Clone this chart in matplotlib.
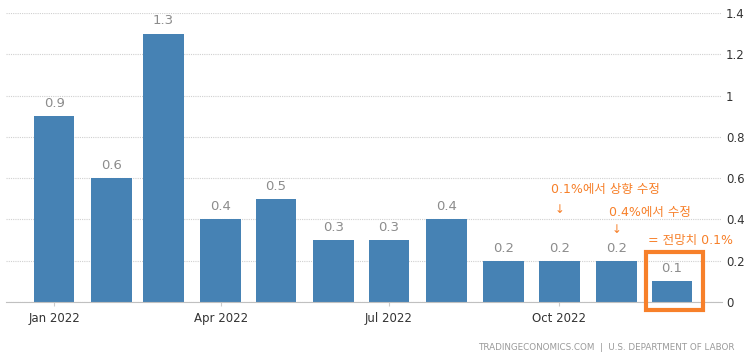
import matplotlib
matplotlib.use('Agg')
import matplotlib.pyplot as plt
import matplotlib.dates as mdates
from matplotlib.patches import Rectangle
import datetime as dt

plt.rcParams['font.family'] = ['DejaVu Sans', 'Noto Sans CJK KR']

# Daten
months = [dt.date(2022, m, 1) for m in range(1, 13)]
values = [0.9, 0.6, 1.3, 0.4, 0.5, 0.3, 0.3, 0.4, 0.2, 0.2, 0.2, 0.1]
tick_dates = [dt.date(2022, 1, 1), dt.date(2022, 4, 1), dt.date(2022, 7, 1), dt.date(2022, 10, 1)]
tick_labels = ['Jan 2022', 'Apr 2022', 'Jul 2022', 'Oct 2022']
yticks = [0, 0.2, 0.4, 0.6, 0.8, 1, 1.2, 1.4]
ytick_labels = ['0', '0.2', '0.4', '0.6', '0.8', '1', '1.2', '1.4']

orange = '#f7802a'
bar_col = '#4682b4'

fig = plt.figure(figsize=(7.48, 3.57), dpi=100)
ax = fig.add_axes([6 / 748, 55 / 357, 716 / 748, 289 / 357])

x = mdates.date2num(months)
ax.bar(x, values, width=22, color=bar_col, zorder=2)

for xi, v in zip(x, values):
    ax.text(xi, v + 0.03, f'{v:.1f}', ha='center', va='bottom', color='#8c8c8c', fontsize=9.5)

ax.set_xlim(mdates.date2num(dt.date(2021, 12, 6)), mdates.date2num(dt.date(2022, 12, 28)))
ax.set_ylim(0, 1.4)

ax.set_xticks(mdates.date2num(tick_dates))
ax.set_xticklabels(tick_labels, fontsize=8.5, color='#333333')
ax.tick_params(axis='x', length=3, color='#cccccc', pad=4)

ax.yaxis.tick_right()
ax.set_yticks(yticks)
ax.set_yticklabels(ytick_labels, fontsize=8.5, color='#333333')
ax.tick_params(axis='y', length=0, pad=3)

ax.grid(axis='y', linestyle=(0, (1, 1)), color='#d0d0d0', linewidth=0.8, zorder=0)
for s in ['top', 'left', 'right']:
    ax.spines[s].set_visible(False)
ax.spines['bottom'].set_linestyle((0, (1, 1)))
ax.spines['bottom'].set_color('#c0c0c0')

# Anmerkungen
d = lambda m, day: mdates.date2num(dt.date(2022, m, day))
ax.text(d(10, 26), 0.545, '0.1%에서 상향 수정', color=orange, fontsize=9, ha='center', va='center')
ax.text(d(10, 1), 0.45, '↓', color=orange, fontsize=8.5, ha='center', va='center')
ax.text(d(11, 19), 0.435, '0.4%에서 수정', color=orange, fontsize=9, ha='center', va='center')
ax.text(d(11, 1), 0.35, '↓', color=orange, fontsize=8.5, ha='center', va='center')
ax.text(d(12, 11), 0.30, '= 전망치 0.1%', color=orange, fontsize=9, ha='center', va='center')

ax.add_patch(Rectangle((d(11, 17), -0.04), 30.5, 0.28, fill=False, edgecolor=orange,
                       linewidth=3, clip_on=False, zorder=3))

fig.text(735 / 748, 10 / 357, 'TRADINGECONOMICS.COM  |  U.S. DEPARTMENT OF LABOR', ha='right',
         va='center', fontsize=6.3, color='#9a9a9a')

fig.savefig('out.png', dpi=100)
